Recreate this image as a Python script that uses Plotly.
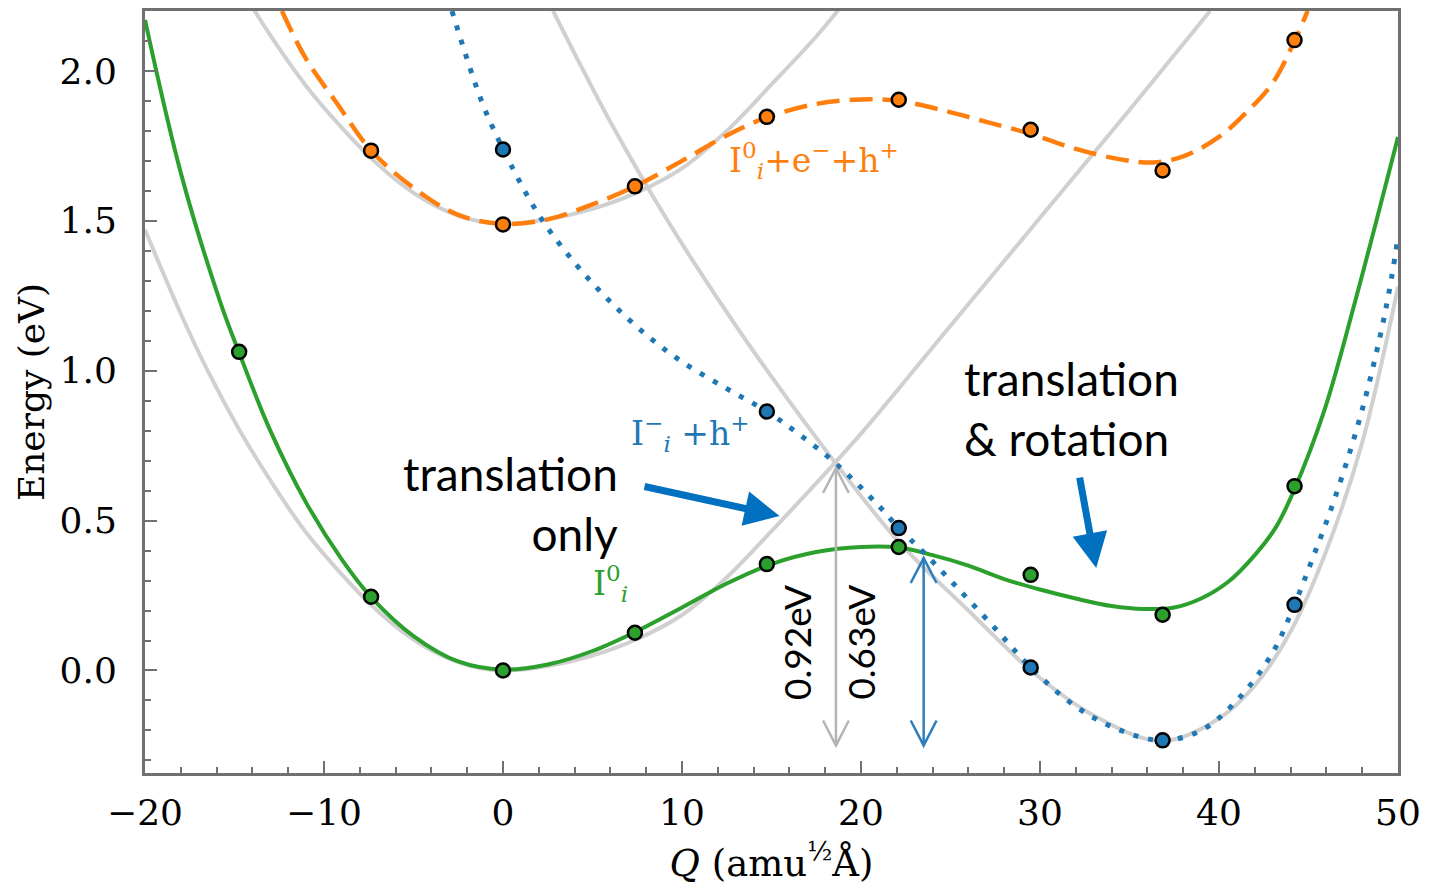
import plotly.graph_objects as go

# ------------------------------------------------------------------ data
# sampled DFT points (Q in amu^1/2 Å, energy in eV)
Q_green_pts = [-14.74, -7.37, 0.0, 7.37, 14.74, 22.11, 29.48, 36.85, 44.22]
E_green_pts = [1.063, 0.246, 0.0, 0.126, 0.355, 0.412, 0.319, 0.186, 0.615]

Q_orange_pts = [-7.37, 0.0, 7.37, 14.74, 22.11, 29.48, 36.85, 44.22]
E_orange_pts = [1.734, 1.488, 1.615, 1.847, 1.904, 1.804, 1.668, 2.103]

Q_blue_pts = [0.0, 14.74, 22.11, 29.48, 36.85, 44.22]
E_blue_pts = [1.738, 0.864, 0.475, 0.010, -0.233, 0.219]

# fitted potential energy surfaces
Q_green_fit = [-20, -18, -15.8, -14.74, -13, -11, -9, -7.37, -5, -2.5, 0, 2.5, 5, 7.37, 10,
               12.5, 15, 17.5, 20, 22.11, 24, 26, 28, 30, 32, 34, 35.8, 37.5, 39, 40.5, 42,
               43.2, 44.22, 45.9, 47.6, 50]
E_green_fit = [2.17, 1.66, 1.23, 1.06, 0.80, 0.56, 0.37, 0.245, 0.115, 0.03, 0.003, 0.02, 0.065,
               0.128, 0.21, 0.29, 0.355, 0.395, 0.412, 0.41, 0.385, 0.35, 0.305, 0.27, 0.24,
               0.215, 0.205, 0.21, 0.24, 0.295, 0.385, 0.48, 0.605, 0.87, 1.23, 1.78]

Q_orange_fit = [-12.35, -11, -9.3, -7.37, -5, -2.5, 0, 2.5, 5, 7.37, 10, 12.5, 14.74, 17.5, 20,
                22.11, 24.5, 27, 29.48, 32, 34.5, 36.3, 38, 40, 41.5, 43, 44.22, 44.95]
E_orange_fit = [2.2, 2.04, 1.894, 1.735, 1.61, 1.52, 1.49, 1.505, 1.555, 1.615, 1.70, 1.785,
                1.845, 1.89, 1.905, 1.90, 1.87, 1.83, 1.79, 1.74, 1.705, 1.695, 1.715, 1.78,
                1.86, 1.96, 2.10, 2.2]

Q_blue_fit = [-2.85, -1.2, 0, 2, 4, 6, 8, 10, 12.5, 14.74, 16.5, 18.6, 20.9, 22.11, 23.4, 25.4,
              27.5, 29.48, 32, 34.5, 36.85, 39, 41, 43, 44.22, 45.27, 46.5, 48, 49.3, 50]
E_blue_fit = [2.2, 1.9, 1.74, 1.52, 1.36, 1.23, 1.12, 1.03, 0.94, 0.864, 0.79, 0.69, 0.555,
              0.475, 0.40, 0.275, 0.14, 0.01, -0.12, -0.2, -0.233, -0.2, -0.1, 0.06, 0.22, 0.38,
              0.58, 0.87, 1.2, 1.445]

# grey reference curves
Q_grey_a = [-20, -18, -16.5, -14.7, -12.9, -11, -9.15, -7.3, -5.4, -3.6, -1.8, 0, 2.5, 5, 7.5,
            10, 12.5, 15, 17.5, 20, 25, 30, 35, 39.5]
E_grey_a = [1.47, 1.19, 1.0, 0.80, 0.625, 0.46, 0.33, 0.215, 0.12, 0.055, 0.015, 0.0, 0.015,
            0.05, 0.105, 0.185, 0.31, 0.465, 0.625, 0.79, 1.15, 1.51, 1.87, 2.2]

Q_grey_b = [2.8, 4.5, 6, 9.2, 12, 15, 18.6, 22.1, 26, 29.5, 33, 36.8, 40, 42, 44, 46, 48, 50]
E_grey_b = [2.2, 2.0, 1.83, 1.5, 1.24, 0.98, 0.69, 0.43, 0.2, 0.0, -0.15, -0.235, -0.16, -0.05,
            0.13, 0.40, 0.76, 1.28]

Q_grey_c = [-14.7, -12.9, -11, -9.15, -7.3, -5.4, -3.6, -1.8, 0, 2.5, 5, 7.5, 10, 12.5, 15,
            17.5, 19.5]
E_grey_c = [2.28, 2.11, 1.95, 1.82, 1.705, 1.61, 1.545, 1.505, 1.49, 1.505, 1.54, 1.595, 1.675,
            1.80, 1.955, 2.115, 2.26]

# barrier arrows: (Q, E bottom, E top)
barrier_grey = [18.6, -0.25, 0.675]
barrier_blue = [23.5, -0.25, 0.375]

x_ticks = [-20, -10, 0, 10, 20, 30, 40, 50]
y_ticks = [0.0, 0.5, 1.0, 1.5, 2.0]

# ------------------------------------------------------------------ style
GREEN = "#2ca02c"
ORANGE = "#ff7f0e"
BLUE = "#1f77b4"
GREY = "#d0d0d0"
AX = "#707070"
ARROW_BLUE = "#0070c0"
SERIF = "DejaVu Serif"
SANS = "Lato"

X0, X1 = -20, 50
Y0, Y1 = -0.342, 2.2
ML, MR, MT, MB = 145, 24, 8, 116

fig = go.Figure()


def add_curve(x, y, color, width, dash="solid"):
    fig.add_trace(go.Scatter(x=x, y=y, mode="lines",
                             line=dict(color=color, width=width, dash=dash,
                                       shape="spline", smoothing=1.0),
                             hoverinfo="skip", showlegend=False))


def add_points(x, y, color):
    fig.add_trace(go.Scatter(x=x, y=y, mode="markers",
                             marker=dict(color=color, size=14,
                                         line=dict(color="black", width=2.5)),
                             hoverinfo="skip", showlegend=False, cliponaxis=False))


add_curve(Q_grey_a, E_grey_a, GREY, 4)
add_curve(Q_grey_b, E_grey_b, GREY, 4)
add_curve(Q_grey_c, E_grey_c, GREY, 4)
add_curve(Q_green_fit, E_green_fit, GREEN, 4)
add_curve(Q_orange_fit, E_orange_fit, ORANGE, 4.5, "23px,10px")
add_curve(Q_blue_fit, E_blue_fit, BLUE, 5, "5px,10px")
add_points(Q_blue_pts, E_blue_pts, BLUE)
add_points(Q_orange_pts, E_orange_pts, ORANGE)
add_points(Q_green_pts, E_green_pts, GREEN)

# pixel scales for arrowheads
plot_w = 1429 - ML - MR
plot_h = 889 - MT - MB
px_x = (X1 - X0) / plot_w
px_y = (Y1 - Y0) / plot_h

shapes = []


def double_arrow(spec, color):
    q, lo, hi = spec
    hw, hl = 13 * px_x, 25 * px_y
    shapes.append(dict(type="line", x0=q, x1=q, y0=lo, y1=hi,
                       line=dict(color=color, width=2.5)))
    for tip, sgn in ((lo, 1), (hi, -1)):
        shapes.append(dict(type="path",
                           path=f"M {q-hw},{tip+sgn*hl} L {q},{tip} L {q+hw},{tip+sgn*hl}",
                           line=dict(color=color, width=2.5)))


double_arrow(barrier_grey, "#b4b4b4")
double_arrow(barrier_blue, "#2e7ebc")

annotations = [
    dict(x=17.4, y=1.70, text="I<sup>0</sup><sub><i>i</i></sub>+e<sup>−</sup>+h<sup>+</sup>",
         font=dict(family=SERIF, size=33, color=ORANGE), showarrow=False),
    dict(x=10.45, y=0.79, text="I<sup>−</sup><sub><i>i</i></sub> +h<sup>+</sup>",
         font=dict(family=SERIF, size=33, color=BLUE), showarrow=False),
    dict(x=6.0, y=0.29, text="I<sup>0</sup><sub><i>i</i></sub>",
         font=dict(family=SERIF, size=33, color=GREEN), showarrow=False),
    dict(x=6.55, y=0.558, text="translation<br>only", align="right", xanchor="right",
         yanchor="middle", font=dict(family=SANS, size=46, color="black"), showarrow=False),
    dict(x=25.63, y=0.874, text="translation<br>& rotation", align="left", xanchor="left",
         yanchor="middle", font=dict(family=SANS, size=46, color="black"), showarrow=False),
    dict(x=16.39, y=0.093, text="0.92eV", textangle=-90,
         font=dict(family=SANS, size=37, color="black"), showarrow=False),
    dict(x=20.0, y=0.093, text="0.63eV", textangle=-90,
         font=dict(family=SANS, size=37, color="black"), showarrow=False),
    dict(x=15.45, y=0.515, ax=7.82, ay=0.615, axref="x", ayref="y", text="",
         showarrow=True, arrowhead=2, arrowsize=1.0, arrowwidth=7, arrowcolor=ARROW_BLUE),
    dict(x=33.14, y=0.342, ax=32.2, ay=0.648, axref="x", ayref="y", text="",
         showarrow=True, arrowhead=2, arrowsize=1.0, arrowwidth=7, arrowcolor=ARROW_BLUE),
]

axis_common = dict(ticks="inside", ticklen=12, tickwidth=2, tickcolor=AX, showline=True,
                   linecolor=AX, linewidth=3, mirror=True, showgrid=False, zeroline=False,
                   tickfont=dict(family=SERIF, size=36, color="black"))

fig.update_layout(
    width=1429, height=889,
    margin=dict(l=ML, r=MR, t=MT, b=MB),
    plot_bgcolor="white", paper_bgcolor="white", showlegend=False,
    xaxis=dict(range=[X0, X1], tickvals=x_ticks,
               minor=dict(dtick=2, tick0=-20, ticks="inside", ticklen=6, tickwidth=1.5,
                          tickcolor=AX, showgrid=False),
               ticklabelstandoff=6,
               title=dict(text="<i>Q</i> (amu<sup>½</sup>Å)",
                          font=dict(family=SERIF, size=37, color="black"), standoff=18),
               **axis_common),
    yaxis=dict(range=[Y0, Y1], tickvals=y_ticks, tickformat=".1f",
               minor=dict(dtick=0.1, tick0=0, ticks="inside", ticklen=6, tickwidth=1.5,
                          tickcolor=AX, showgrid=False),
               ticklabelstandoff=18,
               title=dict(text="Energy (eV)",
                          font=dict(family=SERIF, size=36, color="black"), standoff=4),
               **axis_common),
    shapes=shapes,
    annotations=annotations,
)

fig.write_html("out.html")
